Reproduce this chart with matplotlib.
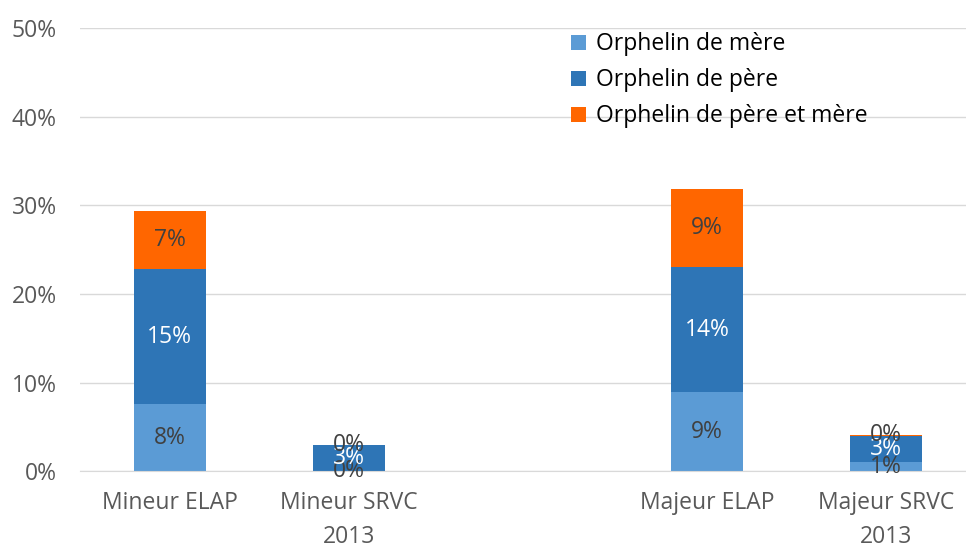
import matplotlib.pyplot as plt
from matplotlib.patches import Rectangle
import numpy as np

plt.rcParams['font.family'] = 'Open Sans'

# data (values in %)
categories = ["Mineur ELAP", "Mineur SRVC\n2013", "", "Majeur ELAP", "Majeur SRVC\n2013"]
mere = [7.6, 0.0, np.nan, 8.9, 1.0]
pere = [15.2, 3.0, np.nan, 14.1, 3.0]
pere_et_mere = [6.6, 0.0, np.nan, 8.9, 0.15]
lbl_mere = ["8%", "0%", "", "9%", "1%"]
lbl_pere = ["15%", "3%", "", "14%", "3%"]
lbl_both = ["7%", "0%", "", "9%", "0%"]
series_names = ["Orphelin de mère", "Orphelin de père", "Orphelin de père et mère"]

c_mere = '#5B9BD5'
c_pere = '#2E75B6'
c_both = '#FF6600'
txt_dark = '#404040'
grid_col = '#D9D9D9'

fig = plt.figure(figsize=(9.66, 5.5), dpi=100)
ax = fig.add_axes([0.083, 0.143, 0.927, 0.806])

x = np.arange(len(categories))
m = np.nan_to_num(mere)
p = np.nan_to_num(pere)
b = np.nan_to_num(pere_et_mere)
keep = [i for i in x if categories[i]]

w = 0.4
ax.bar(x[keep], m[keep], w, color=c_mere, label=series_names[0], zorder=2)
ax.bar(x[keep], p[keep], w, bottom=m[keep], color=c_pere, label=series_names[1], zorder=2)
ax.bar(x[keep], b[keep], w, bottom=m[keep] + p[keep], color=c_both, label=series_names[2], zorder=2)

# data labels centred in each segment (they overlap on the small bars, as in the original)
fs = 16.5
for i in keep:
    ax.text(i, m[i] / 2, lbl_mere[i], ha='center', va='center', fontsize=fs, color=txt_dark, zorder=3)
    ax.text(i, m[i] + p[i] / 2, lbl_pere[i], ha='center', va='center', fontsize=fs, color='white', zorder=3)
    ax.text(i, m[i] + p[i] + b[i] / 2, lbl_both[i], ha='center', va='center', fontsize=fs, color=txt_dark, zorder=3)

ax.set_ylim(0, 50)
ax.set_xlim(-0.5, len(categories) - 0.5)
ax.set_yticks(np.arange(0, 51, 10))
ax.set_yticklabels([f"{v}%" for v in range(0, 51, 10)])
ax.set_xticks(x[keep])
ax.set_xticklabels([categories[i] for i in keep], linespacing=1.55)
ax.tick_params(axis='both', length=0, labelsize=fs, labelcolor='#595959')
ax.tick_params(axis='y', pad=17)
ax.tick_params(axis='x', pad=14)
ax.yaxis.grid(True, color=grid_col, linewidth=1, zorder=0)
for s in ['top', 'right', 'left']:
    ax.spines[s].set_visible(False)
ax.spines['bottom'].set_color(grid_col)

# white area behind the legend hides the upper gridlines
ax.add_patch(Rectangle((0.413, 0.745), 0.6, 0.3, transform=ax.transAxes,
                       facecolor='white', edgecolor='none', clip_on=False, zorder=1))

leg = ax.legend(loc='upper left', bbox_to_anchor=(0.548, 0.990), frameon=False, fontsize=fs,
                handlelength=0.65, handleheight=0.65, handletextpad=0.45, labelspacing=0.52,
                borderaxespad=0, borderpad=0)
for t in leg.get_texts():
    t.set_color('black')

fig.savefig("out.png", dpi=100)
